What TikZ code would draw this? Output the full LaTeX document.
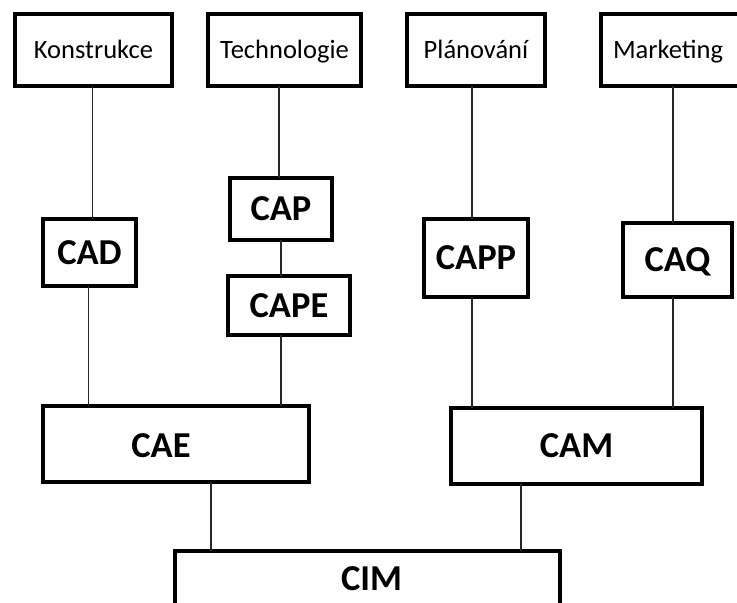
\documentclass[tikz,border=0pt]{standalone}
\usepackage{fontspec}
\setmainfont{Carlito}
\tikzset{
  box/.style={draw=black, line width=4.3pt, fill=white, rectangle, inner sep=0pt, outer sep=0pt},
  smallfont/.style={font=\fontsize{26.5}{30}\selectfont, text height=17pt, text depth=0pt, inner sep=0pt},
  bigfont/.style={font=\fontsize{36.5}{40}\selectfont\bfseries, text height=23.5pt, text depth=0pt, inner sep=0pt},
  small/.style={box, smallfont},
  big/.style={box, bigfont},
  conn/.style={draw=black!85, line width=1.3pt}
}
\begin{document}
\begin{tikzpicture}[x=1pt, y=-1pt]
\useasboundingbox (0,0) rectangle (737,603);
\clip (0,0) rectangle (737,603);
\fill[white] (0,0) rectangle (737,603);
% top row
\node[small, minimum width=157pt, minimum height=72pt] (kon) at (93.5,50) {Konstrukce};
\node[small, minimum width=153pt, minimum height=72pt] (tec) at (284.5,50) {Technologie};
\node[small, minimum width=138pt, minimum height=72pt] (pla) at (476,50) {Plánování};
\node[box, minimum width=159pt, minimum height=72pt, label={[smallfont, xshift=-12.5pt]center:Marketing}] (mar) at (680.5,50) {};
% middle
\node[big, minimum width=93pt, minimum height=67pt] (cad) at (89.5,252.5) {CAD};
\node[big, minimum width=102pt, minimum height=62pt] (cap) at (281,209) {CAP};
\node[big, minimum width=122pt, minimum height=59pt] (cape) at (289,305.5) {CAPE};
\node[big, minimum width=104pt, minimum height=78pt] (capp) at (476,258) {CAPP};
\node[big, minimum width=109pt, minimum height=74pt] (caq) at (677.5,260) {CAQ};
% lower
\node[box, minimum width=266pt, minimum height=76pt, label={[bigfont, xshift=-15pt, yshift=-2pt]center:CAE}] (cae) at (176,444) {};
\node[big, minimum width=251pt, minimum height=76pt] (cam) at (576.5,446) {CAM};
\node[box, minimum width=385pt, minimum height=88pt, label={[bigfont, yshift=16pt, xshift=4pt]center:CIM}] (cim) at (367.5,595) {};
% connectors
\draw[conn] (kon.south -| 92.5,0) -- (cad.north -| 92.5,0);
\draw[conn] (cad.south -| 88.5,0) -- (cae.north -| 88.5,0);
\draw[conn] (tec.south -| 279,0) -- (cap.north -| 279,0);
\draw[conn] (cap.south -| 281,0) -- (cape.north -| 281,0);
\draw[conn] (cape.south -| 281,0) -- (cae.north -| 281,0);
\draw[conn] (pla.south -| 472,0) -- (capp.north -| 472,0);
\draw[conn] (capp.south -| 472,0) -- (cam.north -| 472,0);
\draw[conn] (mar.south -| 673,0) -- (caq.north -| 673,0);
\draw[conn] (caq.south -| 673,0) -- (cam.north -| 673,0);
\draw[conn] (cae.south -| 211,0) -- (cim.north -| 211,0);
\draw[conn] (cam.south -| 521,0) -- (cim.north -| 521,0);
\end{tikzpicture}
\end{document}
